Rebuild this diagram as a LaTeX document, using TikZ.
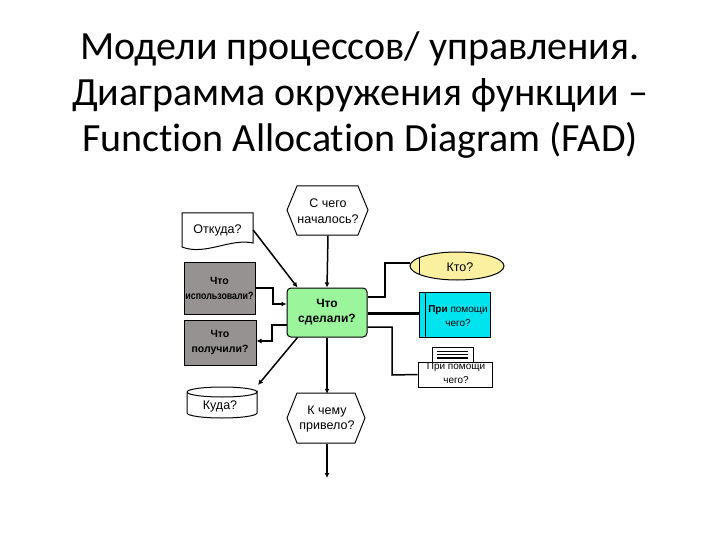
\documentclass[tikz,border=0pt]{standalone}
\usepackage{fontspec}
\usepackage{graphicx}
\setmainfont{Liberation Sans}
\newfontfamily\titlefont[Ligatures=NoCommon]{Carlito}
\usetikzlibrary{arrows.meta}
\definecolor{greyfill}{RGB}{150,146,146}
\definecolor{greenfill}{RGB}{155,245,155}
\definecolor{cyanfill}{RGB}{0,228,240}
\definecolor{yellowfill}{RGB}{250,240,160}
\tikzset{
  ttl/.style={font=\titlefont\fontsize{40}{46}\selectfont, anchor=base, inner sep=0pt},
  lbl/.style={font=\fontsize{12.5}{15.5}\selectfont, align=center, inner sep=0pt},
  greylbl/.style={font=\bfseries\fontsize{10.5}{15}\selectfont, align=center, inner sep=0pt},
  smalllbl/.style={font=\fontsize{10}{14}\selectfont, align=center, inner sep=0pt},
  shp/.style={draw=black, line width=1pt},
  conn/.style={line width=1.5pt},
  arr/.style={conn, -{Latex[length=5pt,width=5pt]}},
}
\begin{document}
\begin{tikzpicture}[x=1pt,y=-1pt]
\useasboundingbox (0,0) rectangle (720,540);
% title
\node[ttl] (t1) at (360,60) {Модели процессов/ управления.};
\node[ttl] (t2) at (360,106) {Диаграмма окружения функции –};
\node[ttl] (t3) at (360,152) {Function Allocation Diagram (FAD)};

% hexagon top
\draw[shp, fill=white] (287,210) -- (297,186) -- (358,186) -- (368,210) -- (358,235) -- (297,235) -- cycle;
\node[lbl, minimum width=81pt, minimum height=49pt] (h1) at (328,211) {С чего\\началось?};
% document
\draw[shp, fill=white] (182,213) -- (253,213) -- (253,243) .. controls (230,238) and (205,256) .. (182,247) -- cycle;
\node[lbl, minimum width=71pt, minimum height=34pt] (doc) at (217.5,230) {Откуда?};
% grey boxes
\node[shp, fill=greyfill, greylbl, minimum width=71pt, minimum height=52pt] (g1) at (219.5,288) {Что\\\scalebox{0.84}[1]{использовали?}};
\node[shp, fill=greyfill, greylbl, minimum width=72pt, minimum height=45pt] (g2) at (220,342.5) {Что\\получили?};
% green box
\node[shp, fill=greenfill, rounded corners=4pt, lbl, font=\bfseries\fontsize{12}{15}\selectfont, minimum width=80pt, minimum height=49pt] (f) at (327,312.5) {Что\\сделали?};
% cylinder
\draw[shp, fill=white] (187,392) -- (187,413) arc[start angle=180, end angle=360, x radius=35pt, y radius=5pt] -- (257,392) arc[start angle=0, end angle=-180, x radius=35pt, y radius=5pt];
\draw[shp] (187,392) arc[start angle=180, end angle=360, x radius=35pt, y radius=-5pt];
\node[lbl, minimum width=70pt, minimum height=31pt] (cyl) at (220,406) {Куда?};
% hexagon bottom
\draw[shp, fill=white] (287,418) -- (297,393) -- (355,393) -- (365,418) -- (355,443) -- (297,443) -- cycle;
\node[lbl, minimum width=78pt, minimum height=50pt] (h2) at (327,419) {К чему\\привело?};
\coordinate (end) at (327,478);
% ellipse
\draw[shp, fill=yellowfill] (457,266) ellipse[x radius=47pt, y radius=14pt];
\draw[shp] (419,258) -- (419,274);
\node[lbl, minimum width=94pt, minimum height=28pt] (who) at (460,267) {Кто?};
% cyan box
\node[shp, fill=cyanfill, minimum width=71pt, minimum height=45pt, inner sep=0pt] (cy) at (454.5,315) {};
\draw[shp] (425,293) -- (425,337);
\node[smalllbl] (cyt) at (458,316) {\textbf{При} помощи\\чего?};
% device
\node[shp, fill=white, minimum width=41pt, minimum height=15pt, inner sep=0pt] (dtop) at (452.5,354.5) {};
\draw[line width=0.6pt] (437,351) -- (468,351);
\draw[line width=1.2pt] (437,354.5) -- (468,354.5);
\draw[line width=1.2pt] (437,358) -- (468,358);
\node[shp, fill=white, minimum width=74pt, minimum height=25pt, inner sep=0pt] (dev) at (455,374.5) {};
\node[smalllbl] (devt) at (456,373) {При помощи\\чего?};

% connectors
\draw[arr] (h1.south) -- (f.north);
\draw[arr] (doc.east) -- ([xshift=11pt]f.north west);
\draw[arr] (g1.east) -- (273,288) -- (273,304) -- (f.west |- 0,304);
\draw[arr] (f.west |- 0,325) -- (272,325) -- (272,341) -- (g2.east |- 0,341);
\draw[arr] ([xshift=11pt]f.south west) -- (258,385);
\draw[arr] (f.south) -- (h2.north);
\draw[arr] (h2.south) -- (end);
\draw[conn] (f.east |- 0,297) -- (385,297) -- (385,263) -- (410,263);
\draw[line width=3pt] (f.east |- 0,313) -- (cy.west |- 0,313);
\draw[conn] (f.east |- 0,327) -- (392,327) -- (392,375) -- (dev.west);
\end{tikzpicture}
\end{document}
